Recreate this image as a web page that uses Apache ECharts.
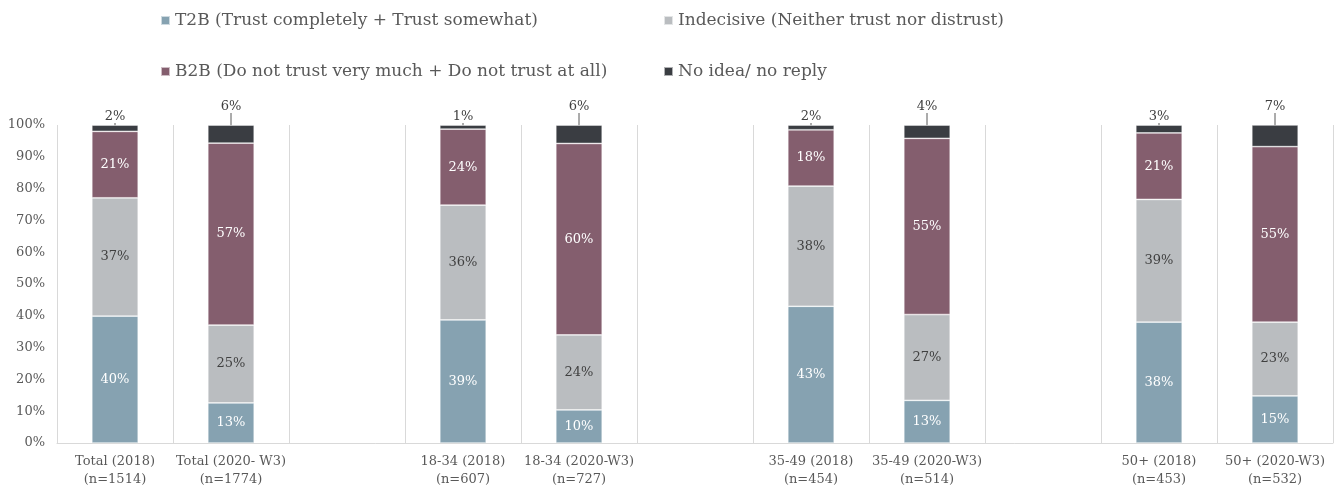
<!DOCTYPE html>
<html>
<head>
<meta charset="utf-8">
<script src="https://cdn.jsdelivr.net/npm/echarts@6/dist/echarts.min.js"></script>
<style>
    html, body { margin: 0; padding: 0; background: #fff; }
    #chart1 { width: 1335px; height: 490px; }
</style>
</head>
<body>
<div id="chart1"></div>
<script>
// categories ('' = empty spacer slot between groups)
var categories = ['Total (2018)\n(n=1514)', 'Total (2020- W3)\n(n=1774)', '',
    '18-34 (2018)\n(n=607)', '18-34 (2020-W3)\n(n=727)', '',
    '35-49 (2018)\n(n=454)', '35-49 (2020-W3)\n(n=514)', '',
    '50+ (2018)\n(n=453)', '50+ (2020-W3)\n(n=532)'];
var seriesNames = ['T2B (Trust completely + Trust somewhat)', 'Indecisive (Neither trust nor distrust)',
    'B2B (Do not trust very much + Do not trust at all)', 'No idea/ no reply'];
var t2b = [39.9, 12.6, '-', 38.7, 10.4, '-', 43.0, 13.4, '-', 38.0, 14.8];
var indecisive = [37.2, 24.5, '-', 36.1, 23.6, '-', 37.8, 27.0, '-', 38.6, 23.2];
var b2b = [20.9, 57.2, '-', 23.9, 60.2, '-', 17.7, 55.4, '-', 20.9, 55.2];
var noIdea = [2.0, 5.7, '-', 1.3, 5.8, '-', 1.5, 4.2, '-', 2.5, 6.8];
// 2020 bars get their top label lifted with a guide line
var lifted = [1, 4, 7, 10];

var colors = ['#86A2B1', '#BABDC0', '#845E6E', '#3A3D42'];
var font = 'DejaVu Serif';

var index = {
    init: function () {
        var mychart = echarts.init(document.getElementById('chart1'));
        mychart.setOption(this.buildOption());
    },
    buildOption: function () {
        var pct = function (p) { return Math.round(p.value) + '%'; };
        var legendPos = [[155, 7], [658, 7], [155, 58], [658, 58]];
        var legends = seriesNames.map(function (n, i) {
            return {
                data: [n],
                left: legendPos[i][0],
                top: legendPos[i][1],
                itemWidth: 9,
                itemHeight: 9,
                itemGap: 6,
                icon: 'rect',
                textStyle: { color: '#595959', fontFamily: font, fontSize: 17 }
            };
        });
        var inner = function (name, data, i, txtColor) {
            return {
                name: name,
                type: 'bar',
                stack: 'all',
                barWidth: '40%',
                data: data,
                itemStyle: { color: colors[i], borderColor: 'rgba(255,255,255,0.6)', borderWidth: 0.75 },
                label: {
                    show: true,
                    position: 'inside',
                    color: txtColor,
                    fontFamily: font,
                    fontSize: 13,
                    formatter: pct
                }
            };
        };
        var series = [
            inner(seriesNames[0], t2b, 0, '#ffffff'),
            inner(seriesNames[1], indecisive, 1, '#404040'),
            inner(seriesNames[2], b2b, 2, '#ffffff'),
            {
                name: seriesNames[3],
                type: 'bar',
                stack: 'all',
                barWidth: '40%',
                data: noIdea,
                itemStyle: { color: colors[3], borderColor: 'rgba(255,255,255,0.6)', borderWidth: 0.75 },
                label: {
                    show: true,
                    position: 'top',
                    distance: 2,
                    color: '#404040',
                    fontFamily: font,
                    fontSize: 13,
                    formatter: pct
                },
                labelLine: {
                    show: true,
                    lineStyle: { color: '#595959', width: 1 }
                },
                labelLayout: function (params) {
                    if (lifted.indexOf(params.dataIndex) >= 0) {
                        return { dy: -10 };
                    }
                    return {};
                }
            }
        ];
        return {
            animation: false,
            color: colors,
            legend: legends,
            grid: { left: 57, right: 2, top: 125, bottom: 47 },
            xAxis: {
                type: 'category',
                data: categories,
                axisLine: { lineStyle: { color: '#D9D9D9' } },
                axisTick: { show: false },
                splitLine: { show: true, lineStyle: { color: '#D9D9D9' } },
                axisLabel: {
                    color: '#595959',
                    fontFamily: font,
                    fontSize: 13,
                    lineHeight: 18,
                    interval: 0,
                    margin: 10
                }
            },
            yAxis: {
                type: 'value',
                min: 0,
                max: 100,
                interval: 10,
                splitLine: { show: false },
                axisLine: { show: false },
                axisTick: { show: false },
                axisLabel: {
                    formatter: '{value}%',
                    color: '#595959',
                    fontFamily: font,
                    fontSize: 13,
                    margin: 12
                }
            },
            series: series
        };
    }
};

index.init();
</script>
</body>
</html>
